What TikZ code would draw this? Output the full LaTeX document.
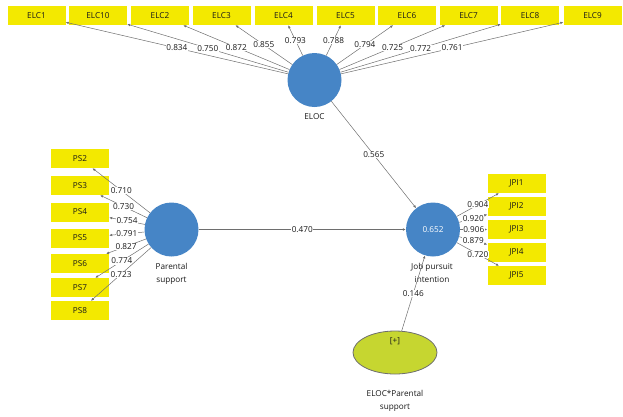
\documentclass[tikz,border=0pt]{standalone}
\usepackage{fontspec}
\setmainfont{Open Sans}
\usetikzlibrary{shapes.geometric,arrows.meta}
\definecolor{boxyellow}{RGB}{243,233,0}
\definecolor{lvblue}{RGB}{70,133,198}
\definecolor{modgreen}{RGB}{198,214,48}
\definecolor{linegray}{RGB}{110,110,110}
\definecolor{txt}{RGB}{25,25,25}
\tikzset{
  ind/.style={fill=boxyellow,minimum width=58pt,minimum height=19pt,inner sep=0pt,font=\fontsize{8.2}{9.6}\selectfont,text=txt},
  lv/.style={circle,fill=lvblue,minimum size=54pt,inner sep=0pt,font=\fontsize{8.2}{9.6}\selectfont,text=white},
  lvname/.style={align=center,font=\fontsize{8.2}{13}\selectfont,text=txt,inner sep=0pt},
  conn/.style={draw=linegray,line width=0.5pt,-{Latex[length=3pt,width=2.6pt]}},
  wt/.style={fill=white,inner sep=0.6pt,font=\fontsize{8.2}{9.6}\selectfont,text=txt,midway}
}
\begin{document}
\begin{tikzpicture}[x=1pt,y=-1pt]
\useasboundingbox (0,0) rectangle (623,416);
% indicators ELOC
\foreach \n/\x in {ELC1/36.5,ELC10/98,ELC2/160,ELC3/221.5,ELC4/283.5,ELC5/345.5,ELC6/407,ELC7/468.5,ELC8/530,ELC9/592.5}
  \node[ind] (\n) at (\x,15.5) {\n};
% indicators PS
\foreach \n/\y in {PS2/158.5,PS3/185.5,PS4/212,PS5/238,PS6/263.5,PS7/287.5,PS8/310.5}
  \node[ind] (\n) at (80,\y) {\n};
% indicators JPI
\foreach \n/\y in {JPI1/183.5,JPI2/206.5,JPI3/229.5,JPI4/252.5,JPI5/275.5}
  \node[ind] (\n) at (516.5,\y) {\n};
% latent variables
\node[lv] (ELOC) at (314.5,80) {};
\node[lvname] (ELOCname) at (314.5,117) {ELOC};
\node[lv] (PAR) at (171.5,229.5) {};
\node[lvname] (PARname) at (171.5,274) {Parental\\support};
\node[lv] (JPI) at (433,229.5) {0.652};
\node[lvname] (JPIname) at (432,273) {Job pursuit\\intention};
\node[ellipse,fill=modgreen,draw=linegray,line width=0.8pt,minimum width=84pt,minimum height=43pt,inner sep=0pt] (MOD) at (395,352.5) {};
\node[lvname] (plus) at (395,341) {[+]};
\node[lvname] (MODname) at (395,401) {ELOC*Parental\\support};
% ELOC loadings
\foreach \n/\w in {ELC1/0.834,ELC10/0.750,ELC2/0.872,ELC3/0.855,ELC4/0.793,ELC5/0.788,ELC6/0.794,ELC7/0.725,ELC8/0.772,ELC9/0.761}
  \draw[conn] (ELOC) -- node[wt]{\w} (\n);
% PS loadings
\foreach \n/\w in {PS2/0.710,PS3/0.730,PS4/0.754,PS5/0.791,PS6/0.827,PS7/0.774,PS8/0.723}
  \draw[conn] (PAR) -- node[wt]{\w} (\n);
% JPI loadings
\foreach \n/\w in {JPI1/0.904,JPI2/0.920,JPI3/0.906,JPI4/0.879,JPI5/0.720}
  \draw[conn] (JPI) -- node[wt]{\w} (\n);
% structural paths
\draw[conn] (ELOC) -- node[wt]{0.565} (JPI);
\draw[conn] (PAR) -- node[wt]{0.470} (JPI);
\draw[conn] (MOD) -- node[wt]{0.146} (JPI);
\end{tikzpicture}
\end{document}
